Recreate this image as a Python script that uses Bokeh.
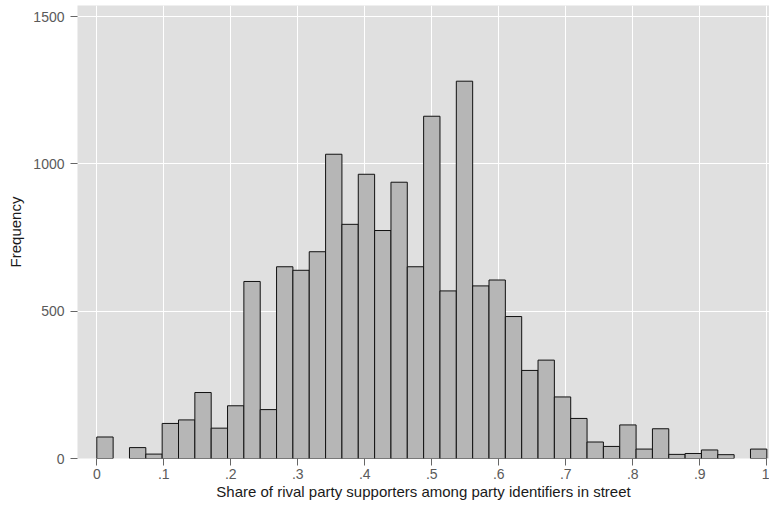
import numpy as np
from bokeh.plotting import figure
from bokeh.models import Range1d, FixedTicker, ColumnDataSource
from bokeh.embed import file_html
from bokeh.resources import INLINE

# Histogram: 41 equal-width bins on [0, 1]
counts = [73, 0, 37, 15, 119, 131, 224, 103, 179, 601,
          166, 651, 639, 702, 1033, 795, 965, 774, 938, 651,
          1162, 569, 1281, 586, 606, 482, 299, 334, 209, 136,
          56, 41, 114, 32, 101, 14, 17, 29, 13, 0, 32]
x_min, x_max = 0.0, 1.0
x_ticks = [0, 0.1, 0.2, 0.3, 0.4, 0.5, 0.6, 0.7, 0.8, 0.9, 1.0]
x_tick_labels = ["0", ".1", ".2", ".3", ".4", ".5", ".6", ".7", ".8", ".9", "1"]
y_ticks = [0, 500, 1000, 1500]
x_title = "Share of rival party supporters among party identifiers in street"
y_title = "Frequency"

nb = len(counts)
edges = np.linspace(x_min, x_max, nb + 1)
cnt = np.array(counts)
mask = cnt > 0
src = ColumnDataSource(dict(left=edges[:-1][mask], right=edges[1:][mask],
                            top=cnt[mask], bottom=np.zeros(mask.sum())))

p = figure(width=769, height=508, output_backend="svg", toolbar_location=None,
           x_range=Range1d(-0.0288, 1.004), y_range=Range1d(0, 1538),
           min_border_left=77, min_border_right=0, min_border_top=5,
           min_border_bottom=50)
p.background_fill_color = "#e0e0e0"
p.border_fill_color = "white"
p.outline_line_color = None

p.quad(left="left", right="right", top="top", bottom="bottom", source=src,
       fill_color="#b6b6b6", line_color="#111111", line_width=1)

for ax in (p.xaxis[0], p.yaxis[0]):
    ax.axis_line_color = None
    ax.major_tick_line_color = "#666666"
    ax.major_tick_in = 0
    ax.major_tick_out = 7
    ax.minor_tick_line_color = None
    ax.major_label_text_font = "Liberation Sans"
    ax.major_label_text_font_size = "14px"
    ax.major_label_text_color = "#5a5a5a"
    ax.axis_label_text_font = "Liberation Sans"
    ax.axis_label_text_font_size = "15px"
    ax.axis_label_text_font_style = "normal"
    ax.axis_label_text_color = "#1a1a1a"

p.xaxis.ticker = FixedTicker(ticks=x_ticks)
p.xaxis.major_label_overrides = {t: l for t, l in zip(x_ticks, x_tick_labels)}
p.xaxis.major_label_standoff = 3
p.xaxis.axis_label = x_title
p.xaxis.axis_label_standoff = 1

p.yaxis.ticker = FixedTicker(ticks=y_ticks)
p.yaxis.major_label_orientation = "horizontal"
p.yaxis.major_label_standoff = 6
p.yaxis.axis_label = y_title
p.yaxis.axis_label_standoff = 6

p.xgrid.ticker = FixedTicker(ticks=x_ticks)
p.ygrid.ticker = FixedTicker(ticks=y_ticks)
p.grid.grid_line_color = "white"
p.grid.grid_line_width = 1

open("out.html", "w").write(file_html(p, INLINE))
